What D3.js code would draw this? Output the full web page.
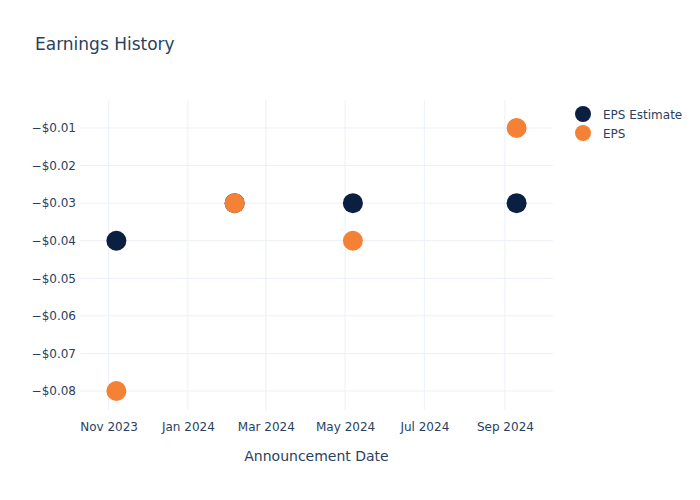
<!DOCTYPE html>
<html>
<head>
<meta charset="utf-8">
<script src="https://cdn.jsdelivr.net/npm/d3@7"></script>
<style>
  body { margin: 0; background: #fff; }
  svg text { font-family: "DejaVu Sans", "Open Sans", sans-serif; fill: #2a3f5f; }
</style>
</head>
<body>
<div id="chart"></div>
<script>
// announcement dates and EPS values
const dates = ["2023-11-07", "2024-02-06", "2024-05-07", "2024-09-10"];
const epsEstimate = [-0.04, -0.03, -0.03, -0.03];
const epsActual = [-0.08, -0.03, -0.04, -0.01];
const seriesNames = ["EPS Estimate", "EPS"];
const seriesColors = ["#0b1f41", "#f58136"];
const yTicks = [-0.01, -0.02, -0.03, -0.04, -0.05, -0.06, -0.07, -0.08];
const xTicks = ["2023-11-01", "2024-01-01", "2024-03-01", "2024-05-01", "2024-07-01", "2024-09-01"];

const W = 700, H = 500;
const margin = { top: 100, right: 147, bottom: 90, left: 80 };
const width = W - margin.left - margin.right;
const height = H - margin.top - margin.bottom;
const parse = d3.timeParse("%Y-%m-%d");

const svg = d3.select("#chart").append("svg")
    .attr("width", W)
    .attr("height", H);

// 標題
svg.append("text")
    .attr("x", 35)
    .attr("y", 50)
    .style("font-size", "17px")
    .text("Earnings History");

const g = svg.append("g")
    .attr("transform", `translate(${margin.left},${margin.top})`);

const xScale = d3.scaleTime()
    .domain([parse("2023-10-10"), parse("2024-10-08")])
    .range([0, width]);

const yScale = d3.scaleLinear()
    .domain([-0.08506, -0.00255])
    .range([height, 0]);

// 格線
g.selectAll(".xgrid")
    .data(xTicks)
    .enter().append("line")
    .attr("x1", d => xScale(parse(d)))
    .attr("x2", d => xScale(parse(d)))
    .attr("y1", 0)
    .attr("y2", height)
    .attr("stroke", "#ebf0f8")
    .attr("stroke-width", 1);

g.selectAll(".ygrid")
    .data(yTicks)
    .enter().append("line")
    .attr("x1", 0)
    .attr("x2", width)
    .attr("y1", d => yScale(d))
    .attr("y2", d => yScale(d))
    .attr("stroke", "#ebf0f8")
    .attr("stroke-width", 1);

// X 軸
const xAxis = g.append("g")
    .attr("transform", `translate(0,${height})`)
    .call(d3.axisBottom(xScale)
        .tickValues(xTicks.map(parse))
        .tickFormat(d3.timeFormat("%b %Y"))
        .tickSize(0)
        .tickPadding(12));
xAxis.select(".domain").remove();
xAxis.selectAll("text").style("font-size", "12px");

// Y 軸
const yAxis = g.append("g")
    .call(d3.axisLeft(yScale)
        .tickValues(yTicks)
        .tickFormat(d => "\u2212$" + Math.abs(d).toFixed(2))
        .tickSize(0)
        .tickPadding(4));
yAxis.select(".domain").remove();
yAxis.selectAll("text").style("font-size", "12px");

// X 軸標題
svg.append("text")
    .attr("x", margin.left + width / 2)
    .attr("y", 461)
    .attr("text-anchor", "middle")
    .style("font-size", "14px")
    .text("Announcement Date");

// 散點
[epsEstimate, epsActual].forEach((vals, s) => {
    g.selectAll(".pt" + s)
        .data(vals)
        .enter().append("circle")
        .attr("cx", (d, i) => xScale(parse(dates[i])))
        .attr("cy", d => yScale(d))
        .attr("r", 10)
        .attr("fill", seriesColors[s]);
});

// 圖例
const legend = svg.append("g")
    .attr("transform", "translate(583,114)");
seriesNames.forEach((name, i) => {
    legend.append("circle")
        .attr("cx", 0)
        .attr("cy", i * 19)
        .attr("r", 8)
        .attr("fill", seriesColors[i]);
    legend.append("text")
        .attr("x", 20)
        .attr("y", i * 19 + 4.5)
        .style("font-size", "12px")
        .text(name);
});
</script>
</body>
</html>
